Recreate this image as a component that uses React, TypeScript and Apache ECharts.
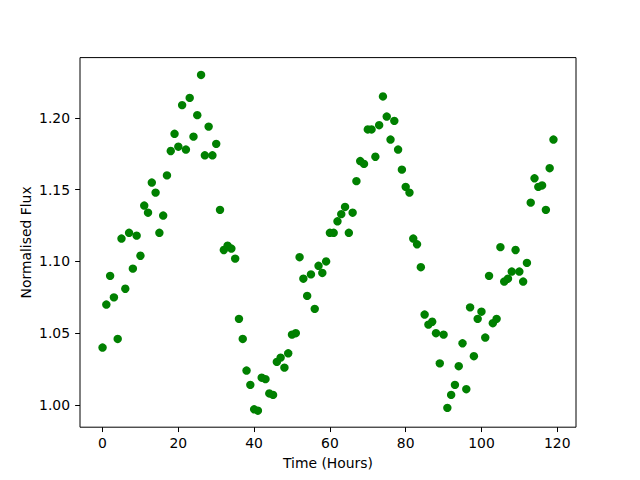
import React, { useEffect, useRef } from "react";
import * as echarts from "echarts";

const hours: number[] = Array.from({ length: 120 }, (_, i) => i);
const flux: number[] = [
  1.040, 1.070, 1.090, 1.075, 1.046, 1.116, 1.081, 1.120, 1.095, 1.118,
  1.104, 1.139, 1.134, 1.155, 1.148, 1.120, 1.132, 1.160, 1.177, 1.189,
  1.180, 1.209, 1.178, 1.214, 1.187, 1.202, 1.230, 1.174, 1.194, 1.174,
  1.182, 1.136, 1.108, 1.111, 1.109, 1.102, 1.060, 1.046, 1.024, 1.014,
  0.997, 0.996, 1.019, 1.018, 1.008, 1.007, 1.030, 1.033, 1.026, 1.036,
  1.049, 1.050, 1.103, 1.088, 1.076, 1.091, 1.067, 1.097, 1.092, 1.100,
  1.120, 1.120, 1.128, 1.133, 1.138, 1.120, 1.134, 1.156, 1.170, 1.168,
  1.192, 1.192, 1.173, 1.195, 1.215, 1.201, 1.185, 1.198, 1.178, 1.164,
  1.152, 1.148, 1.116, 1.112, 1.096, 1.063, 1.056, 1.058, 1.050, 1.029,
  1.049, 0.998, 1.007, 1.014, 1.027, 1.043, 1.011, 1.068, 1.034, 1.060,
  1.065, 1.047, 1.090, 1.057, 1.060, 1.110, 1.086, 1.088, 1.093, 1.108,
  1.093, 1.086, 1.099, 1.141, 1.158, 1.152, 1.153, 1.136, 1.165, 1.185,
];
const xTicks: number[] = [0, 20, 40, 60, 80, 100, 120];
const yTicks: number[] = [1.0, 1.05, 1.1, 1.15, 1.2];

const FONT = "DejaVu Sans";

export default function App() {
  const ref = useRef<HTMLDivElement>(null);
  useEffect(() => {
    if (!ref.current) return;
    const chart = echarts.init(ref.current, undefined, { renderer: "svg" });
    const xMin = -5.95;
    const xMax = 124.95;
    const yMin = 0.9845;
    const yMax = 1.2421;
    chart.setOption({
      animation: false,
      backgroundColor: "#ffffff",
      grid: {
        left: 80,
        right: 64,
        top: 57.6,
        bottom: 52.8,
        show: true,
        borderColor: "#000000",
        borderWidth: 1,
        backgroundColor: "transparent",
      },
      xAxis: {
        type: "value",
        min: xMin,
        max: xMax,
        name: "Time (Hours)",
        nameLocation: "middle",
        nameGap: 29,
        nameMoveOverlap: false,
        nameTextStyle: { fontFamily: FONT, fontSize: 13.9, color: "#000" },
        axisLine: { show: false, onZero: false },
        axisTick: {
          show: true,
          length: 4.86,
          lineStyle: { color: "#000", width: 1 },
          customValues: xTicks,
        },
        axisLabel: {
          fontFamily: FONT,
          fontSize: 13.9,
          color: "#000",
          margin: 9,
          customValues: xTicks,
          formatter: (v: number) => String(Math.round(v)),
        },
        splitLine: { show: false },
      },
      yAxis: {
        type: "value",
        min: yMin,
        max: yMax,
        name: "Normalised Flux",
        nameLocation: "middle",
        nameGap: 47,
        nameMoveOverlap: false,
        nameTextStyle: { fontFamily: FONT, fontSize: 13.9, color: "#000" },
        axisLine: { show: false, onZero: false },
        axisTick: {
          show: true,
          length: 4.86,
          lineStyle: { color: "#000", width: 1 },
          customValues: yTicks,
        },
        axisLabel: {
          fontFamily: FONT,
          fontSize: 13.9,
          color: "#000",
          margin: 10,
          customValues: yTicks,
          formatter: (v: number) => v.toFixed(2),
        },
        splitLine: { show: false },
      },
      series: [
        {
          type: "scatter",
          data: hours.map((h, i) => [h, flux[i]]),
          symbol: "circle",
          symbolSize: 8.4,
          itemStyle: { color: "#008000", opacity: 1 },
          emphasis: { disabled: true },
        },
      ],
    });
    return () => chart.dispose();
  }, []);
  return <div ref={ref} style={{ width: 640, height: 480, position: "absolute", left: 0, top: 0 }} />;
}
